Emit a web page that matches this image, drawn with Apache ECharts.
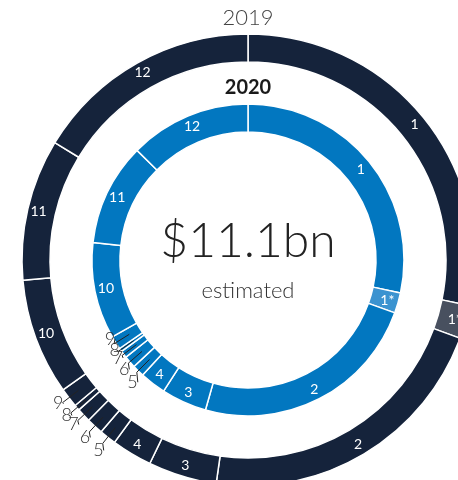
<!DOCTYPE html>
<html>
<head>
<meta charset="utf-8">
<script src="https://cdn.jsdelivr.net/npm/echarts@6/dist/echarts.min.js"></script>
<style>
  html, body { margin: 0; padding: 0; background: #fff; }
  #chart { width: 458px; height: 480px; }
</style>
</head>
<body>
<div id="chart"></div>
<script>
  // segment names, clockwise from 12 o'clock
  const months = ['1', '1*', '2', '3', '4', '5', '6', '7', '8', '9', '10', '11', '12']
  // share of the year (%)
  const share2019 = [28.2, 2.4, 21.6, 4.9, 2.9, 1.2, 1.2, 1.0, 0.4, 1.4, 8.3, 10.1, 16.3]
  const share2020 = [28.4, 2.1, 23.9, 4.7, 2.7, 1.25, 1.25, 0.75, 0.35, 1.4, 10.0, 10.6, 12.6]
  // thin segments labelled outside with a leader line
  const smallOnes = ['5', '6', '7', '8', '9']

  const cx = 248, cy = 260
  const font = 'Lato'

  function ringData(values, base, accent) {
    return months.map((m, i) => ({
      name: m,
      value: values[i],
      itemStyle: { color: m === '1*' ? accent : base },
      label: { show: smallOnes.indexOf(m) < 0 }
    }))
  }

  // invisible copy of a ring, only used to hang the outside labels on
  function labelData(values) {
    return months.map((m, i) => {
      let show = smallOnes.indexOf(m) >= 0
      return {
        name: m,
        value: values[i],
        label: { show: show },
        labelLine: { show: show }
      }
    })
  }

  function ring(values, radius, base, accent) {
    return {
      type: 'pie',
      center: [cx, cy],
      radius: radius,
      startAngle: 90,
      clockwise: true,
      silent: true,
      avoidLabelOverlap: false,
      itemStyle: { borderColor: '#fff', borderWidth: 1.5 },
      label: {
        position: 'inside',
        formatter: '{b}',
        color: '#fff',
        fontFamily: font,
        fontSize: 14
      },
      labelLine: { show: false },
      data: ringData(values, base, accent)
    }
  }

  // fan the crowded labels out a little: '9' goes up, '5' goes down
  function fan(base, step, dx) {
    return function (params) {
      let k = params.dataIndex - 7
      let dy = base - k * step
      let out = { dx: dx, dy: dy, hideOverlap: false }
      if (params.labelLinePoints) {
        let pts = params.labelLinePoints.map(p => [p[0], p[1]])
        let last = pts[pts.length - 1]
        last[0] += dx
        last[1] += dy
        out.labelLinePoints = pts
      }
      return out
    }
  }

  function labelRing(values, radius, len, layout) {
    return {
      type: 'pie',
      center: [cx, cy],
      radius: radius,
      startAngle: 90,
      clockwise: true,
      silent: true,
      avoidLabelOverlap: false,
      labelLayout: layout,
      z: 5,
      itemStyle: { color: 'rgba(0,0,0,0)', borderWidth: 0 },
      label: {
        position: 'outside',
        formatter: '{b}',
        color: '#333',
        fontFamily: font,
        fontWeight: 300,
        fontSize: 18,
        distanceToLabelLine: 0
      },
      labelLine: {
        length: len,
        length2: 0,
        smooth: false,
        lineStyle: { color: '#222', width: 1 }
      },
      data: labelData(values)
    }
  }

  let chart = echarts.init(document.getElementById('chart'))
  chart.setOption({
    backgroundColor: '#fff',
    animation: false,
    graphic: [
      { type: 'text', x: cx, y: 18, style: { text: '2019', fill: '#444', font: '300 22px ' + font, textAlign: 'center', textVerticalAlign: 'middle' } },
      { type: 'text', x: cx, y: 88, style: { text: '2020', fill: '#1a1a1a', font: 'bold 20px ' + font, textAlign: 'center', textVerticalAlign: 'middle' } },
      { type: 'text', x: cx, y: 242, style: { text: '$11.1bn', fill: '#222', font: '300 48px ' + font, textAlign: 'center', textVerticalAlign: 'middle' } },
      { type: 'text', x: cx, y: 291, style: { text: 'estimated', fill: '#333', font: '300 22px ' + font, textAlign: 'center', textVerticalAlign: 'middle' } }
    ],
    series: [
      ring(share2019, [198, 226], '#15233b', '#48505f'),
      ring(share2020, [128, 156], '#0277c0', '#3b93d0'),
      labelRing(share2019, [198, 214], 20, fan(4, 1.5, 1)),
      labelRing(share2020, [128, 140], 18, fan(2.5, 3.75, 1))
    ]
  })
</script>
</body>
</html>
